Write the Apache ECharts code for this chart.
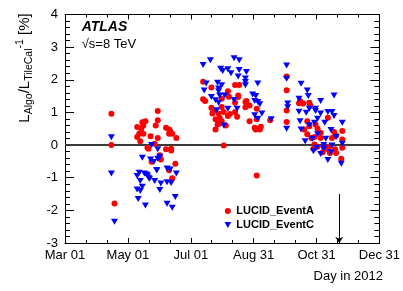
<!DOCTYPE html>
<html>
<head>
<meta charset="utf-8">
<script src="https://cdn.jsdelivr.net/npm/echarts@6/dist/echarts.min.js"></script>
<style>html,body{margin:0;padding:0;background:#fff;}#c{width:403px;height:291px;}</style>
</head>
<body>
<div id="c"></div>
<script>
// x values: day of year 2012 (Mar 01 = 61, Dec 31 = 366)
const xTickDays = [61, 122, 183, 244, 305, 366];
const xTickLabels = ['Mar 01', 'May 01', 'Jul 01', 'Aug 31', 'Oct 31', 'Dec 31'];
const yMin = -3, yMax = 4;

const eventA = [
  [106, 0.96], [106, 0.0], [109, -1.79],
  [151, 1.04], [139, 0.73], [136, 0.70], [137, 0.60], [131, 0.55], [151, 0.76], [149, 0.60],
  [159, 0.53], [163, 0.43], [162, 0.35], [165, 0.35], [133, 0.35], [137, 0.35], [144, 0.27],
  [151, 0.22], [169, 0.22], [131, 0.25], [134, 0.12], [148, 0.04], [141, -0.08], [142, -0.11],
  [159, -0.13], [164, -0.11], [164, -0.17], [153, -0.31], [154, -0.44], [145, -0.51],
  [168, -0.57], [162, -0.77], [165, -1.02], [135, 0.50], [162, 0.48],
  [195, 1.94], [203, 1.76], [226, 1.84], [230, 1.84], [219, 1.65], [195, 1.40], [197, 1.35],
  [213, 1.42], [229, 1.47], [220, 1.48], [237, 1.35], [203, 1.14], [213, 1.17], [247, 1.11],
  [240, 1.21], [204, 0.97], [210, 0.97], [215, 1.01], [219, 0.89], [211, 0.84], [207, 0.79],
  [228, 0.87], [213, 0.73], [209, 0.63], [240, 0.73], [245, 0.53], [249, 0.50], [251, 0.56],
  [207, 0.48], [247, 0.79], [211, 0.66], [246, 0.48], [250, 0.48], [215, -0.01], [247, -0.93],
  [229, 1.52], [236, 1.32], [236, 1.16], [226, 1.30], [226, 1.01], [205, 1.05], [217, 0.60],
  [221, 0.95],
  [276, 2.10], [276, 1.68], [276, 1.06], [276, 0.71], [260, 0.76], [289, 1.35], [292, 1.27],
  [288, 1.28], [299, 1.21], [298, 1.30], [296, 0.73], [316, 0.84], [298, 0.58], [304, 0.63],
  [306, 0.50], [293, 0.48], [330, 0.43], [322, 0.40], [309, 0.38], [296, 0.33], [303, 0.25],
  [309, 0.22], [300, 0.22], [320, 0.22], [324, 0.29], [330, 0.17], [303, 0.02], [306, -0.05],
  [312, -0.05], [317, -0.05], [330, -0.08], [302, -0.11], [323, -0.13], [316, -0.13],
  [318, -0.24], [324, -0.24], [311, -0.22], [329, -0.42]
];

const eventC = [
  [106, 0.24], [106, -0.87], [109, -2.35],
  [145, 0.0], [151, -0.13], [136, -0.39], [153, -0.36], [144, -0.44], [147, -0.52], [150, -0.77],
  [133, -0.85], [138, -0.87], [141, -0.93], [131, -0.95], [160, -0.72], [163, -0.75], [169, -0.87],
  [143, -1.03], [134, -1.10], [148, -1.10], [160, -1.14], [164, -1.16], [154, -1.18], [136, -1.28],
  [131, -1.36], [153, -1.38], [134, -1.41], [132, -1.65], [168, -1.59], [139, -1.85], [160, -1.80],
  [165, -1.92], [151, -0.42], [150, -0.77], [140, -0.90], [142, -1.00],
  [202, 2.60], [225, 2.66], [230, 2.60], [195, 2.45], [214, 2.27], [219, 2.32], [222, 2.20],
  [230, 2.30], [237, 2.24], [229, 2.10], [236, 2.04], [236, 1.93], [248, 1.89], [198, 1.89],
  [209, 1.91], [213, 1.83], [196, 1.67], [210, 1.73], [210, 1.65], [236, 1.83], [246, 1.50],
  [203, 1.47], [207, 1.37], [211, 1.52], [216, 1.52], [245, 1.35], [248, 1.32], [210, 1.30],
  [225, 1.38], [219, 1.11], [228, 1.11], [252, 0.97], [208, 1.07], [245, 0.91], [248, 0.81],
  [261, 0.79], [215, 0.60], [212, 2.34], [243, 1.55], [250, 1.25],
  [276, 2.44], [276, 2.03], [290, 1.88], [296, 1.67], [297, 1.50], [288, 1.42], [277, 1.27],
  [277, 1.16], [322, 1.52], [309, 1.35], [304, 1.11], [304, 1.04], [288, 1.02], [298, 1.11],
  [295, 0.99], [309, 0.97], [316, 1.01], [320, 1.01], [322, 0.89], [313, 0.68], [306, 0.81],
  [303, 0.68], [298, 0.61], [289, 0.73], [276, 0.50], [290, 0.48], [330, 0.68], [319, 0.46],
  [324, 0.25], [301, 0.19], [294, 0.12], [314, 0.19], [306, 0.33], [330, 0.04], [320, -0.01],
  [305, -0.08], [312, -0.11], [309, -0.27], [316, -0.46], [329, -0.57], [319, -0.22],
  [302, -0.19], [312, 0.0]
];

const zeroLine = [[61, 0], [366, 0]];
const arrowDay = 327, arrowFrom = -1.5, arrowTo = -3;

const FONT = '"Liberation Sans", Arial, Helvetica, sans-serif';
const labelMap = {};
xTickDays.forEach((d, i) => { labelMap[d] = xTickLabels[i]; });

const chart = echarts.init(document.getElementById('c'), null, {renderer: 'canvas'});

const axisCommon = {
  axisLine: {show: true, onZero: false, lineStyle: {color: '#000', width: 1}},
  splitLine: {show: false},
  minorSplitLine: {show: false}
};

chart.setOption({
  animation: false,
  backgroundColor: '#fff',
  grid: {left: 65, right: 20.5, top: 14.5, bottom: 48, containLabel: false},
  xAxis: [
    Object.assign({
      type: 'value', min: 61, max: 366, interval: 61, position: 'bottom',
      axisTick: {show: true, inside: true, length: 5, lineStyle: {color: '#000'}},
      minorTick: {show: true, splitNumber: 3, length: 3, lineStyle: {color: '#000'}},
      axisLabel: {show: true, formatter: v => labelMap[v] || '', fontSize: 13, color: '#000', fontFamily: FONT, margin: 6}
    }, axisCommon),
    Object.assign({
      type: 'value', min: 61, max: 366, interval: 61, position: 'top',
      axisTick: {show: true, inside: true, length: 5, lineStyle: {color: '#000'}},
      minorTick: {show: true, splitNumber: 3, length: 3, lineStyle: {color: '#000'}},
      axisLabel: {show: false}
    }, axisCommon)
  ],
  yAxis: [
    Object.assign({
      type: 'value', min: yMin, max: yMax, interval: 1, position: 'left',
      axisTick: {show: true, inside: true, length: 9, lineStyle: {color: '#000'}},
      minorTick: {show: true, splitNumber: 5, length: 5, lineStyle: {color: '#000'}},
      axisLabel: {show: true, fontSize: 13, color: '#000', fontFamily: FONT, margin: 7}
    }, axisCommon),
    Object.assign({
      type: 'value', min: yMin, max: yMax, interval: 1, position: 'right',
      axisTick: {show: true, inside: true, length: 9, lineStyle: {color: '#000'}},
      minorTick: {show: true, splitNumber: 5, length: 5, lineStyle: {color: '#000'}},
      axisLabel: {show: false}
    }, axisCommon)
  ],
  legend: {
    data: ['LUCID_EventA', 'LUCID_EventC'],
    orient: 'vertical', left: 224.5, top: 205, padding: 0,
    itemWidth: 7, itemHeight: 6, itemGap: 2, selectedMode: false,
    textStyle: {fontSize: 11, fontWeight: 'bold', color: '#000', fontFamily: FONT, lineHeight: 12}
  },
  series: [
    {
      type: 'line', data: zeroLine, symbol: 'none', silent: true, z: 1,
      lineStyle: {color: '#3a3a3a', width: 2}, xAxisIndex: 0, yAxisIndex: 0
    },
    {
      name: 'LUCID_EventA', type: 'scatter', data: eventA, z: 3,
      symbol: 'circle', symbolSize: 6, itemStyle: {color: '#ff0000', opacity: 1},
      markLine: {
        silent: true, symbol: ['none', 'arrow'], symbolSize: 6,
        label: {show: false},
        lineStyle: {color: '#000', width: 1, type: 'solid'},
        data: [[{coord: [arrowDay, arrowFrom]}, {coord: [arrowDay, arrowTo]}]]
      }
    },
    {
      name: 'LUCID_EventC', type: 'scatter', data: eventC, z: 4,
      symbol: 'path://M0,0L10,0L5,9Z', symbolSize: [7, 6], itemStyle: {color: '#0000ff', opacity: 1}
    }
  ],
  graphic: [
    {type: 'text', x: 81.7, y: 27, style: {text: 'ATLAS', font: 'italic bold 14px ' + FONT, fill: '#000', textAlign: 'left', textVerticalAlign: 'middle'}},
    {type: 'text', x: 81.7, y: 44.5, style: {text: '\u221As=8 TeV', font: '13px ' + FONT, fill: '#000', textAlign: 'left', textVerticalAlign: 'middle'}},
    {type: 'text', x: 383, y: 276, style: {text: 'Day in 2012', font: '13px ' + FONT, fill: '#000', textAlign: 'right', textVerticalAlign: 'middle'}},
    {
      type: 'text', x: 25, y: 68, rotation: Math.PI / 2,
      style: {
        text: '{m|L}{s|Algo}{m|/L}{s|TileCal}{p|-1}{m| [%]}',
        textAlign: 'center', textVerticalAlign: 'middle', fill: '#000',
        rich: {
          m: {fontSize: 15, lineHeight: 20, fontFamily: FONT, fill: '#000', verticalAlign: 'middle'},
          s: {fontSize: 10.5, lineHeight: 11, fontFamily: FONT, fill: '#000', verticalAlign: 'bottom'},
          p: {fontSize: 10.5, lineHeight: 11, fontFamily: FONT, fill: '#000', verticalAlign: 'top'}
        }
      }
    }
  ]
});
</script>
</body>
</html>
